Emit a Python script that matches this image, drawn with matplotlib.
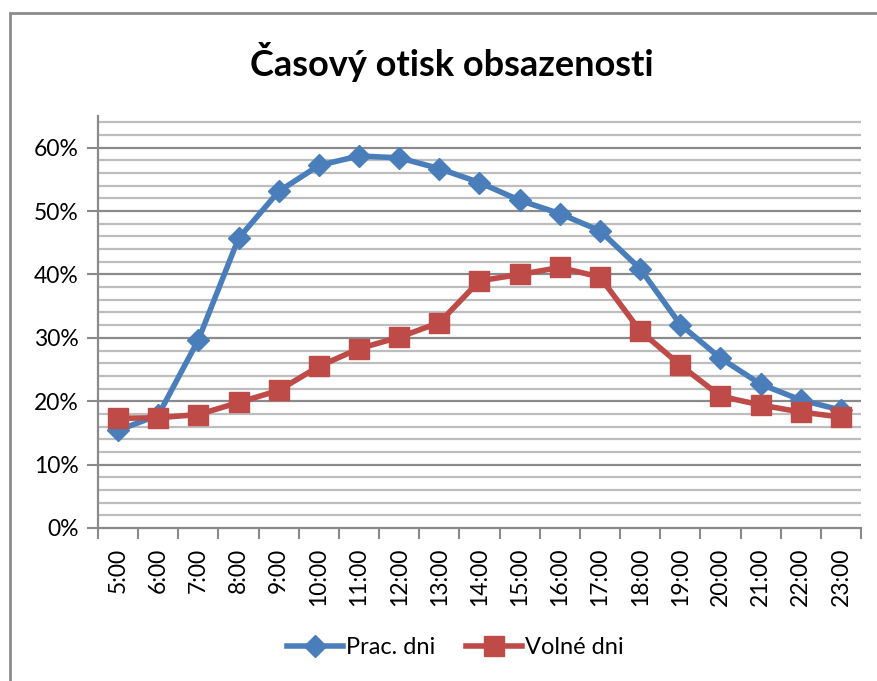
import matplotlib
matplotlib.use("Agg")
import matplotlib.pyplot as plt
from matplotlib.patches import Rectangle
from matplotlib.ticker import FixedLocator, PercentFormatter

hours = ["5:00", "6:00", "7:00", "8:00", "9:00", "10:00", "11:00", "12:00", "13:00",
         "14:00", "15:00", "16:00", "17:00", "18:00", "19:00", "20:00", "21:00",
         "22:00", "23:00"]
prac_dni = [15.4, 17.8, 29.7, 45.7, 53.1, 57.2, 58.7, 58.4, 56.7, 54.5, 51.7, 49.6,
            46.9, 40.9, 32.1, 26.8, 22.7, 20.2, 18.6]
volne_dni = [17.3, 17.4, 17.9, 19.8, 21.7, 25.5, 28.3, 30.1, 32.4, 39.0, 40.0, 41.1,
             39.6, 31.1, 25.7, 20.8, 19.4, 18.3, 17.5]
title = "Časový otisk obsazenosti"
series_names = ["Prac. dni", "Volné dni"]

W, H = 877, 681
plt.rcParams['font.family'] = ['Lato', 'DejaVu Sans']
fig = plt.figure(figsize=(W / 100, H / 100), dpi=100)
fig.patch.set_facecolor('white')

ax = fig.add_axes([98 / W, 1 - 528 / H, (861 - 98) / W, (528 - 116) / H])
x = list(range(len(hours)))

blue = '#4A7EBB'
red = '#BE4B48'
ax.plot(x, prac_dni, color=blue, lw=4, marker='D', ms=11, zorder=3,
        label=series_names[0])
ax.plot(x, volne_dni, color=red, lw=4, marker='s', ms=14, zorder=4,
        label=series_names[1])

ax.set_xlim(-0.5, len(hours) - 0.5)
ax.set_ylim(0, 65)

# grid
for v in range(2, 65, 2):
    if v % 10 == 0:
        ax.axhline(v, color='#8a8a8a', lw=1.6, zorder=1)
    else:
        ax.axhline(v, color='#bdbdbd', lw=1.6, zorder=1)

ax.yaxis.set_major_locator(FixedLocator([0, 10, 20, 30, 40, 50, 60]))
ax.yaxis.set_major_formatter(PercentFormatter(decimals=0))
ax.xaxis.set_major_locator(FixedLocator([i - 0.5 for i in range(len(hours) + 1)]))
ax.xaxis.set_major_formatter(plt.NullFormatter())
ax.xaxis.set_minor_locator(FixedLocator(x))
ax.set_xticklabels(hours, minor=True, rotation=90)
ax.tick_params(axis='x', which='minor', length=0, pad=14, labelsize=16.5)
ax.tick_params(axis='x', which='major', length=8, width=1.5, color='#8a8a8a', direction='out')
ax.tick_params(axis='y', which='major', length=8, width=1.5, color='#8a8a8a',
               direction='out', labelsize=16.5, pad=6)

for s in ['top', 'right']:
    ax.spines[s].set_visible(False)
for s in ['left', 'bottom']:
    ax.spines[s].set_color('#8a8a8a')
    ax.spines[s].set_linewidth(1.6)

fig.text(452 / W, 1 - 62 / H, title, ha='center', va='center', fontsize=26,
         fontweight='bold', color='black')

# chart frame
fig.patches.append(Rectangle((10 / W, -0.2), 2, (H - 13) / H + 0.2, transform=fig.transFigure,
                             fill=False, edgecolor='#8c8c8c', lw=2))

fig.legend(loc='center', bbox_to_anchor=(455 / W, 1 - 648 / H), ncol=2, frameon=False,
           fontsize=17, handlelength=2.4, handletextpad=0.1, columnspacing=1.3)

fig.savefig('out.png', dpi=100)
